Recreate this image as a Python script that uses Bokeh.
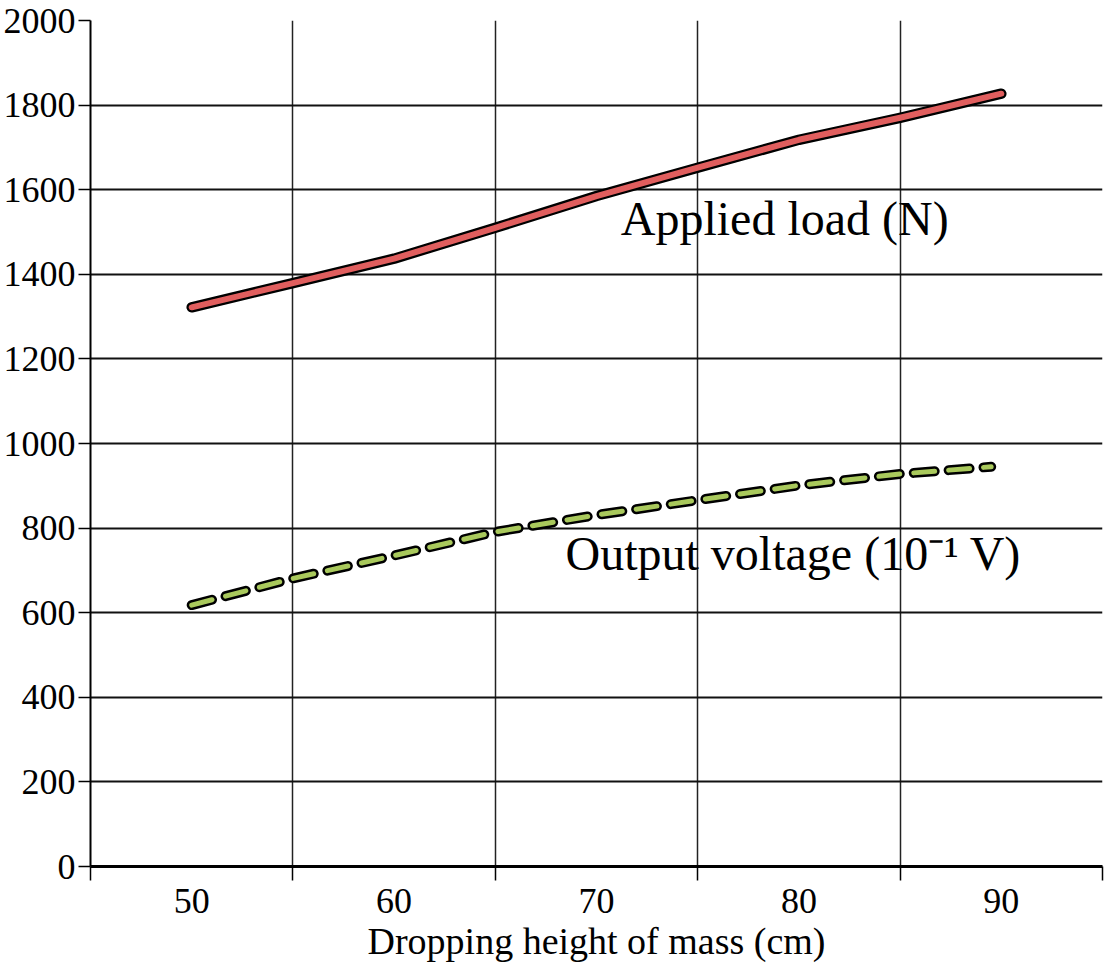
from bokeh.plotting import figure
from bokeh.models import Range1d, FixedTicker, Label
from bokeh.embed import file_html
from bokeh.resources import INLINE

# ---- data ----
x_load = [50, 55, 60, 65, 70, 75, 80, 85, 90]
applied_load = [1322, 1379, 1437, 1510, 1585, 1652, 1718, 1770, 1827]
x_volt = [50, 55, 60, 65, 70, 75, 80, 85, 89.5]
output_voltage = [618, 681, 735, 791, 831, 866, 901, 928, 945]
x_tick_labels = [50, 60, 70, 80, 90]
x_minor = [45, 55, 65, 75, 85, 95]
y_ticks = list(range(0, 2001, 200))

FONT = "Liberation Serif"

p = figure(width=1104, height=964, output_backend="svg", toolbar_location=None,
           x_range=Range1d(45, 95), y_range=Range1d(0, 2000),
           min_border_left=90, min_border_right=2, min_border_top=20, min_border_bottom=98)
p.outline_line_color = None
p.background_fill_color = "white"

# x axis
p.xaxis.ticker = FixedTicker(ticks=x_tick_labels, minor_ticks=x_minor)
p.xaxis.major_tick_out = 0
p.xaxis.major_tick_in = 0
p.xaxis.minor_tick_out = 14
p.xaxis.minor_tick_in = 0
p.xaxis.minor_tick_line_color = "black"
p.xaxis.minor_tick_line_width = 1.5
p.xaxis.axis_line_width = 3
p.xaxis.axis_line_color = "black"
p.xaxis.major_label_text_font = FONT
p.xaxis.major_label_text_font_size = "36px"
p.xaxis.major_label_text_color = "black"
p.xaxis.major_label_standoff = 8
p.xaxis.axis_label = "Dropping height of mass (cm)"
p.xaxis.axis_label_text_font = FONT
p.xaxis.axis_label_text_font_size = "38px"
p.xaxis.axis_label_text_font_style = "normal"
p.xaxis.axis_label_text_color = "black"
p.xaxis.axis_label_standoff = 4

# y axis
p.yaxis.ticker = FixedTicker(ticks=y_ticks)
p.yaxis.major_tick_out = 12
p.yaxis.major_tick_in = 0
p.yaxis.major_tick_line_color = "black"
p.yaxis.major_tick_line_width = 1.5
p.yaxis.minor_tick_line_color = None
p.yaxis.axis_line_width = 2
p.yaxis.axis_line_color = "black"
p.yaxis.major_label_text_font = FONT
p.yaxis.major_label_text_font_size = "36px"
p.yaxis.major_label_text_color = "black"
p.yaxis.major_label_standoff = 3

# grids
p.xgrid.grid_line_color = None
p.xgrid.minor_grid_line_color = "#222222"
p.xgrid.minor_grid_line_width = 1.5
p.ygrid.grid_line_color = "#111111"
p.ygrid.grid_line_width = 2

# applied load: black outline + red core
p.line(x_load, applied_load, line_color="black", line_width=10.5, line_cap="round", line_join="round")
p.line(x_load, applied_load, line_color="#e05e5e", line_width=6, line_cap="round", line_join="round")

# output voltage: outlined green dashes
p.line(x_volt, output_voltage, line_color="black", line_width=10, line_cap="round",
       line_join="round", line_dash="21 14")
p.line(x_volt, output_voltage, line_color="#a9c95c", line_width=5, line_cap="round",
       line_join="round", line_dash="21 14")

p.add_layout(Label(x=71.2, y=1532, text="Applied load (N)", text_font=FONT,
                   text_font_size="48px", text_color="black", text_baseline="middle"))
p.add_layout(Label(x=68.47, y=740, text="Output voltage (10\u207b\u00b9 V)", text_font=FONT,
                   text_font_size="48px", text_color="black", text_baseline="middle"))

open("out.html", "w").write(file_html(p, INLINE))
